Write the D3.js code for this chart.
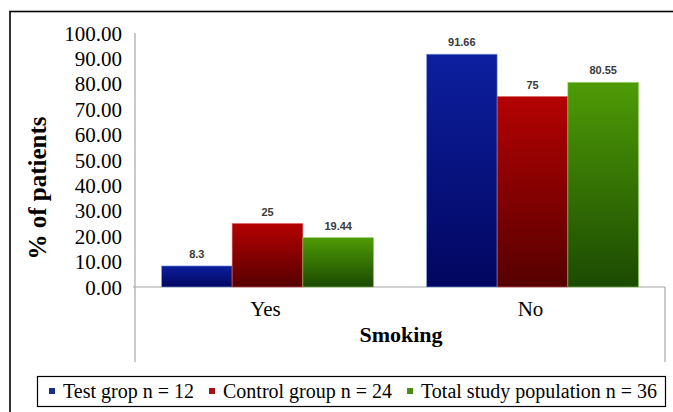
<!DOCTYPE html>
<html>
<head>
<meta charset="utf-8">
<script src="https://cdn.jsdelivr.net/npm/d3@7/dist/d3.min.js"></script>
<style>
  html, body { margin: 0; padding: 0; background: #fff; }
  svg { display: block; }
</style>
</head>
<body>
<svg id="chart" width="673" height="412"></svg>
<script>
// Smoking status by study group (% of patients)
const categories = ["Yes", "No"];
const seriesNames = ["Test grop n = 12", "Control group n = 24", "Total study population n = 36"];
const testGroup = [8.3, 91.66];
const controlGroup = [25, 75];
const totalPopulation = [19.44, 80.55];
const valueLabels = [["8.3", "91.66"], ["25", "75"], ["19.44", "80.55"]];
const yTicks = [0, 10, 20, 30, 40, 50, 60, 70, 80, 90, 100];

const seriesValues = [testGroup, controlGroup, totalPopulation];
const topColors = ["#0c1f9e", "#b40202", "#4f9b06"];
const bottomColors = ["#020660", "#560000", "#1b4a02"];
const edgeColors = ["#8fb4e8", "#e06060", "#8fd060"];
const legendColors = ["#1a2c8c", "#a41212", "#4a8c12"];

const svg = d3.select("#chart");
const serif = "'Liberation Serif', 'Times New Roman', serif";

// outer frame (runs past the right and bottom edges)
svg.append("rect")
  .attr("x", 10).attr("y", 11.5)
  .attr("width", 700).attr("height", 440)
  .attr("fill", "none").attr("stroke", "#000").attr("stroke-width", 1.6);

const plotLeft = 135, plotRight = 665, plotTop = 33, plotBottom = 287;

const y = d3.scaleLinear().domain([0, 100]).range([plotBottom, plotTop]);
const x0 = d3.scaleBand().domain(categories).range([plotLeft, plotRight]).paddingInner(0).paddingOuter(0);
const x1 = d3.scaleBand().domain(d3.range(seriesNames.length)).range([0, x0.bandwidth()])
  .paddingInner(0).paddingOuter(0.375);

// vertical gradients for the bars
const defs = svg.append("defs");
seriesNames.forEach((s, i) => {
  const g = defs.append("linearGradient").attr("id", "grad" + i)
    .attr("x1", 0).attr("y1", 0).attr("x2", 0).attr("y2", 1);
  g.append("stop").attr("offset", "0%").attr("stop-color", topColors[i]);
  g.append("stop").attr("offset", "100%").attr("stop-color", bottomColors[i]);
});

// y axis labels
const yAxis = d3.axisLeft(y).tickValues(yTicks).tickFormat(d3.format(".2f")).tickSize(0).tickPadding(13);
const yg = svg.append("g").attr("transform", `translate(${plotLeft},0)`).call(yAxis);
yg.select(".domain").remove();
yg.selectAll("text").attr("font-family", serif).attr("font-size", 21).attr("fill", "#000")
  .attr("dy", "0.34em");

// axis lines
svg.append("line").attr("x1", plotLeft).attr("x2", plotLeft).attr("y1", plotTop).attr("y2", 362)
  .attr("stroke", "#a6a6a6").attr("stroke-width", 1.2);
svg.append("line").attr("x1", plotLeft - 2).attr("x2", plotRight).attr("y1", plotBottom).attr("y2", plotBottom)
  .attr("stroke", "#a6a6a6").attr("stroke-width", 1.2);
svg.append("line").attr("x1", plotRight).attr("x2", plotRight).attr("y1", plotBottom).attr("y2", 362)
  .attr("stroke", "#a6a6a6").attr("stroke-width", 1.2);

// bars
const groups = svg.append("g").selectAll("g").data(categories).join("g")
  .attr("transform", d => `translate(${x0(d)},0)`);

groups.each(function (cat, ci) {
  const g = d3.select(this);
  seriesValues.forEach((vals, si) => {
    const v = vals[ci];
    g.append("rect")
      .attr("x", x1(si)).attr("y", y(v))
      .attr("width", x1.bandwidth()).attr("height", y(0) - y(v))
      .attr("fill", `url(#grad${si})`)
      .attr("stroke", edgeColors[si]).attr("stroke-width", 0.8).attr("stroke-opacity", 0.7);
    g.append("text")
      .attr("x", x1(si) + x1.bandwidth() / 2).attr("y", y(v) - 8)
      .attr("text-anchor", "middle")
      .attr("font-family", "'Liberation Sans', Arial, sans-serif")
      .attr("font-weight", "bold").attr("font-size", 11).attr("fill", "#3a3a3a")
      .text(valueLabels[si][ci]);
  });
});

// category labels
svg.append("g").selectAll("text").data(categories).join("text")
  .attr("x", d => x0(d) + x0.bandwidth() / 2 - 2).attr("y", 316)
  .attr("text-anchor", "middle").attr("font-family", serif).attr("font-size", 21)
  .text(d => d);

// axis titles
svg.append("text").attr("x", 401).attr("y", 342).attr("text-anchor", "middle")
  .attr("font-family", serif).attr("font-size", 22).attr("font-weight", "bold")
  .text("Smoking");
svg.append("text").attr("transform", "translate(46,188) rotate(-90)").attr("text-anchor", "middle")
  .attr("font-family", serif).attr("font-size", 25).attr("font-weight", "bold")
  .text("% of patients");

// legend
const legend = svg.append("g");
legend.append("rect").attr("x", 37.5).attr("y", 376.5).attr("width", 628).attr("height", 30)
  .attr("fill", "#fff").attr("stroke", "#000").attr("stroke-width", 1.2);
let lx = 49;
seriesNames.forEach((name, i) => {
  legend.append("rect").attr("x", lx).attr("y", 388).attr("width", 6).attr("height", 6)
    .attr("fill", legendColors[i]);
  const t = legend.append("text").attr("x", lx + 14).attr("y", 397.5)
    .attr("font-family", serif).attr("font-size", 20).text(name);
  lx = lx + 14 + t.node().getComputedTextLength() + 15;
});
</script>
</body>
</html>
